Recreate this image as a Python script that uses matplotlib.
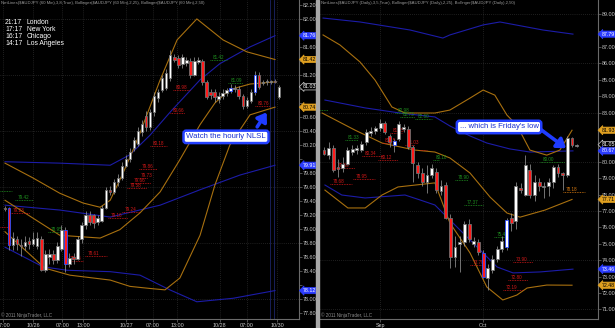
import numpy as np
import matplotlib.pyplot as plt
from matplotlib.patches import Rectangle

plt.rcParams['font.family'] = ['Liberation Sans', 'DejaVu Sans']

# ---------------- hourly AUDJPY (left panel) ----------------
h_open = [79.30, 79.30, 78.77, 78.85, 78.77, 78.75, 78.83, 78.78, 78.76, 78.85,
          78.42, 78.60, 78.64, 78.56, 78.72, 78.98, 78.50, 78.60, 78.57, 78.85,
          79.05, 79.20, 79.20, 79.10, 79.12, 79.30, 79.56, 79.53, 79.67, 79.73,
          79.90, 80.00, 80.15, 80.22, 80.38, 80.62, 80.45, 80.67, 80.87, 80.98,
          81.02, 81.16, 81.46, 81.44, 81.36, 81.37, 81.40, 81.20, 81.39, 81.40,
          81.10, 80.96, 80.96, 80.86, 80.90, 80.94, 80.97, 81.00, 81.00, 80.90,
          80.76, 80.83, 80.95, 81.20, 81.08, 81.10, 81.10, 81.11, 80.88]
h_high = [79.33, 79.32, 78.95, 78.90, 78.85, 78.90, 78.88, 78.95, 78.95, 78.90,
          78.70, 78.72, 78.70, 78.82, 79.05, 79.03, 78.66, 78.65, 78.90, 79.10,
          79.25, 79.25, 79.22, 79.20, 79.34, 79.60, 79.62, 79.72, 79.78, 79.95,
          80.05, 80.15, 80.32, 80.45, 80.55, 80.68, 80.72, 80.95, 81.00, 81.20,
          81.28, 81.55, 81.50, 81.48, 81.50, 81.46, 81.44, 81.45, 81.46, 81.43,
          81.13, 81.00, 81.00, 80.95, 81.00, 81.02, 81.07, 81.05, 81.04, 80.93,
          80.88, 81.00, 81.25, 81.24, 81.13, 81.14, 81.13, 81.14, 81.05]
h_low = [79.25, 78.70, 78.70, 78.70, 78.62, 78.70, 78.72, 78.75, 78.72, 78.40,
         78.38, 78.50, 78.50, 78.52, 78.68, 78.38, 78.46, 78.50, 78.55, 78.80,
         79.00, 79.05, 79.02, 79.05, 79.10, 79.28, 79.48, 79.50, 79.62, 79.70,
         79.88, 79.95, 80.12, 80.18, 80.33, 80.40, 80.42, 80.62, 80.82, 80.95,
         80.98, 81.12, 81.38, 81.30, 81.30, 81.33, 81.15, 81.18, 81.35, 81.05,
         80.85, 80.85, 80.82, 80.80, 80.86, 80.90, 80.94, 80.96, 80.86, 80.72,
         80.73, 80.80, 80.92, 81.00, 81.06, 81.06, 81.07, 81.08, 80.85]
h_close = [79.28, 78.77, 78.87, 78.78, 78.75, 78.82, 78.78, 78.85, 78.87, 78.42,
           78.64, 78.64, 78.56, 78.75, 78.98, 78.50, 78.58, 78.57, 78.85, 79.05,
           79.20, 79.10, 79.08, 79.16, 79.30, 79.55, 79.53, 79.67, 79.73, 79.90,
           80.00, 80.10, 80.27, 80.40, 80.50, 80.45, 80.67, 80.90, 80.95, 81.15,
           81.23, 81.48, 81.42, 81.34, 81.45, 81.41, 81.20, 81.40, 81.41, 81.10,
           80.88, 80.92, 80.88, 80.90, 80.94, 80.98, 81.02, 81.02, 80.90, 80.76,
           80.84, 80.95, 81.20, 81.03, 81.10, 81.10, 81.11, 81.10, 81.03]
h_marked = [1, 15, 56, 62]

h_tick_pos = [-0.5, 7, 14.2, 19.4, 30, 36.7, 42.7, 53.3, 60, 67.5]
h_tick_lab = ['17:00', '10/26', '07:00', '13:00', '10/27', '07:00', '13:00',
              '10/28', '07:00', '10/30']
h_session = [65.8, 66.8]

# Bollinger(50) in blue, Bollinger(25) in orange: (bar, price) points
h_blue_up = ([0, 13.6, 26.1, 31, 36, 41, 48.4, 53.3, 60.8, 67],
             [79.96, 79.94, 79.91, 80.06, 80.34, 80.67, 81.13, 81.36, 81.60, 81.76])
h_blue_mid = ([0, 13.6, 26.1, 38.5, 48.4, 58.3, 67],
              [79.34, 79.27, 79.17, 79.34, 79.56, 79.77, 79.91])
h_blue_low = ([0, 9.4, 15.4, 26.1, 33.5, 40.9, 47.6, 56.6, 67],
              [78.74, 78.46, 78.41, 78.39, 78.34, 78.13, 77.96, 78.01, 78.12])
h_or_up = ([0, 6.9, 13.6, 19.4, 23.6, 26.1, 29.3, 31.8, 33.5, 38.5, 42.7, 47.6, 54.1, 60, 67],
           [79.94, 79.73, 79.51, 79.37, 79.31, 79.41, 79.80, 80.13, 80.37, 81.13,
            81.70, 82.00, 81.70, 81.53, 81.42])
h_or_mid = ([0, 13.6, 23.6, 28.5, 33.5, 38.5, 43.4, 48.4, 52.1, 55.8, 60.8, 67],
            [79.41, 78.91, 78.87, 78.99, 79.23, 79.53, 79.99, 80.49, 80.80, 80.99, 81.07, 81.10])
h_or_low = ([0, 9.9, 16.1, 26.1, 31, 36, 39.7, 43.4, 48.4, 52.1, 55.8, 60.8, 67],
            [78.96, 78.44, 78.34, 78.27, 78.18, 78.15, 78.13, 78.30, 78.91, 79.63, 80.20, 80.63, 80.74])

# NetLines: (from bar, to bar, price, colour, labelled)
h_netlines = [(-1.2, 1.7, 79.54, 'g', False), (2.5, 7.0, 79.42, 'g', True),
              (1.2, 6.2, 79.23, 'r', True), (-1.2, 0.8, 79.03, 'r', False),
              (10.7, 14.1, 78.95, 'g', True), (15.4, 19.4, 78.54, 'r', True),
              (19.9, 25.3, 78.61, 'r', True), (25.6, 30.5, 79.16, 'r', True),
              (29.0, 33.5, 79.24, 'r', True), (30.3, 35.2, 79.58, 'r', True),
              (31.3, 36.2, 79.66, 'r', True), (33.0, 35.5, 79.73, 'r', True),
              (33.3, 37.7, 79.86, 'r', True), (36.0, 40.2, 80.18, 'r', True),
              (41.0, 44.7, 80.66, 'r', True), (41.7, 46.0, 80.98, 'r', True),
              (50.9, 55.1, 81.42, 'g', True), (55.3, 59.1, 81.09, 'g', True),
              (62.0, 65.8, 80.76, 'r', True)]
h_tags = [(81.76, 'b'), (81.42, 'o'), (81.03, 'w'), (80.74, 'o'), (79.91, 'b'), (78.12, 'b')]
h_grid = [82.0, 81.2, 80.4, 79.6, 78.8, 78.0]

# ---------------- daily AUDJPY (right panel) ----------------
d_open = [80.73, 80.40, 80.85, 79.70, 79.60, 79.90, 80.60, 80.75, 80.75, 81.20,
          81.75, 81.90, 82.05, 82.40, 81.55, 81.00, 81.40, 82.00, 82.00, 80.90,
          79.80, 79.30, 78.80, 79.20, 79.40, 78.20, 78.60, 76.60, 74.20, 75.00,
          75.10, 76.20, 75.00, 75.10, 74.45, 72.90, 73.40, 74.10, 74.70, 74.80,
          76.60, 76.40, 78.40, 78.00, 79.50, 78.00, 78.80, 78.45, 78.50, 78.80,
          79.70, 79.35, 79.20, 81.45, 80.95]
d_high = [80.90, 81.20, 81.00, 80.20, 80.30, 80.90, 81.00, 81.00, 81.30, 82.00,
          82.10, 82.20, 82.60, 82.50, 81.70, 81.40, 82.50, 82.30, 82.20, 81.00,
          80.00, 79.60, 79.80, 79.90, 79.60, 78.90, 78.80, 76.80, 75.50, 75.50,
          76.40, 76.50, 75.40, 75.30, 74.60, 73.80, 74.30, 74.90, 75.50, 76.60,
          76.90, 78.80, 78.70, 80.40, 79.90, 79.20, 79.00, 78.80, 79.00, 79.80,
          79.90, 79.40, 81.60, 81.50, 81.10]
d_low = [80.40, 80.20, 79.40, 79.10, 79.40, 79.80, 80.40, 80.50, 80.60, 81.00,
         81.60, 81.70, 81.90, 81.70, 80.90, 80.60, 81.30, 81.80, 80.80, 78.80,
         79.00, 78.50, 78.10, 79.00, 78.10, 78.00, 76.50, 73.50, 73.60, 73.30,
         74.90, 75.10, 74.80, 74.30, 72.90, 72.17, 73.20, 73.90, 74.50, 74.60,
         75.80, 75.90, 78.10, 77.90, 77.80, 77.60, 78.20, 77.80, 77.90, 78.40,
         79.10, 78.30, 79.10, 80.90, 80.90]
d_close = [80.50, 80.85, 79.50, 79.55, 79.90, 80.70, 80.80, 80.85, 81.10, 81.80,
           81.90, 82.05, 82.40, 81.80, 81.20, 81.30, 82.30, 82.10, 80.90, 79.95,
           79.30, 78.80, 79.20, 79.60, 78.30, 78.50, 76.60, 74.20, 74.80, 75.10,
           76.20, 75.30, 75.15, 74.50, 73.00, 73.50, 74.10, 74.70, 75.20, 76.45,
           76.30, 78.50, 78.30, 79.80, 78.00, 78.80, 78.50, 78.55, 78.80, 79.70,
           79.35, 79.20, 81.45, 81.00, 81.05]
d_marked = [15, 34, 39]

d_tick_pos = [12, 34]
d_tick_lab = ['Sep', 'Oct']

d_blue_up = ([-0.2, 7.7, 18.4, 25.4, 26.9, 34, 37.6, 46.8, 53.2],
             [88.77, 88.53, 88.04, 87.55, 87.74, 88.35, 88.53, 88.04, 87.79])
d_blue_mid = ([0.2, 8.8, 16.2, 23.7, 26.9, 31.2, 34.8, 39.7, 44, 53.2],
              [83.77, 83.29, 82.98, 82.74, 82.19, 81.58, 81.15, 80.79, 80.60, 80.67])
d_blue_low = ([0.2, 3.8, 8.8, 17.3, 20.5, 23.7, 26.9, 31.2, 37, 40.4, 46.2, 53.2],
              [78.59, 77.98, 77.80, 77.98, 77.68, 77.37, 76.46, 75.24, 73.59, 73.23, 73.29, 73.46])
d_or_up = ([-0.2, 3.4, 7.7, 10.9, 14.5, 17.3, 23.7, 26.9, 31.2, 34, 36.5, 39.1, 41.2, 44, 47.6, 50.4, 53],
           [87.74, 87.13, 86.09, 84.99, 83.35, 82.98, 82.98, 83.16, 83.89, 84.38,
            84.07, 82.85, 82.24, 80.72, 80.41, 80.72, 81.93])
d_or_mid = ([-0.4, 6.6, 12.4, 19.4, 23.7, 26.9, 31.2, 35.5, 39.1, 41.9, 47.2, 53],
            [82.98, 81.94, 81.15, 80.72, 80.60, 80.24, 79.32, 77.85, 76.88, 76.63, 77.06, 77.71])
d_or_low = ([0.2, 5.1, 8.8, 12.4, 15.8, 23.7, 26.9, 31.2, 34.8, 38.2, 41.2, 43.4, 47.6, 53],
            [78.28, 77.19, 77.19, 77.98, 78.47, 78.72, 76.28, 74.45, 72.37, 71.58, 71.88, 72.31, 72.49, 72.48])

d_netlines = [(-1.9, 0.9, 83.16, 'g', False), (15.2, 17.9, 82.98, 'g', True),
              (16.2, 19.4, 82.73, 'g', True), (19.4, 23.1, 82.60, 'g', True),
              (4.5, 7.3, 81.33, 'g', True), (14.1, 16.7, 81.75, 'r', True),
              (12.4, 14.5, 81.15, 'r', True), (17.3, 19.4, 81.03, 'r', True),
              (8.2, 12.5, 80.34, 'r', True), (11.6, 15.9, 80.12, 'r', True),
              (2.4, 6.6, 79.60, 'r', True), (1.3, 6.0, 78.68, 'r', True),
              (6.2, 10.9, 78.95, 'r', True), (20.5, 22.0, 80.70, 'r', False),
              (23.3, 24.6, 80.10, 'g', True), (28.0, 30.8, 78.90, 'g', True),
              (29.9, 34.0, 77.37, 'g', True), (46.2, 51.5, 80.00, 'g', True),
              (36.3, 39.3, 75.40, 'g', True), (31.2, 34.0, 73.70, 'r', True),
              (40.4, 44.7, 73.90, 'r', True), (39.3, 43.6, 72.80, 'r', True),
              (38.2, 42.5, 72.19, 'r', True), (51.1, 55.8, 78.18, 'o', True)]
d_tags = [(87.79, 'b'), (81.93, 'o'), (81.05, 'w'), (80.67, 'b'), (77.71, 'o'), (73.46, 'b'), (72.48, 'o')]
d_grid = [89, 86, 83, 80, 77, 74, 71]

BLUE = '#1c1ca8'
ORANGE = '#a8700f'
NET = {'r': '#d01818', 'g': '#1f8f1f', 'o': '#d87a10'}
TAG = {'b': ('#2b3cff', '#2b3cff', 'white'), 'o': ('#e0a020', '#e0a020', 'black'),
       'w': ('black', '#d0d0d0', 'white')}


def draw_panel(ax, o, h, l, c, marked, bands, netlines, tags, grid, minbody, title):
    ax.set_facecolor('black')
    o, h, l, c = map(np.asarray, (o, h, l, c))
    x = np.arange(len(o))
    for g in grid:
        ax.axhline(g, color='#3c3c3c', lw=0.5, ls=(0, (1, 2)), zorder=1)
    for bx, by in bands[:3]:
        ax.plot(bx, by, color=BLUE, lw=0.8, zorder=2)
    for bx, by in bands[3:]:
        ax.plot(bx, by, color=ORANGE, lw=0.8, zorder=2)
    for x0, x1, p, col, lab in netlines:
        ax.hlines(p, x0, x1, color=NET[col], lw=0.6, ls=(0, (1, 1)), zorder=2)
        if lab:
            ax.text(x0 + 0.6, p, '%.2f' % p, color=NET[col], fontsize=3.3,
                    va='bottom', zorder=2)
    ax.vlines(x, l, h, color='#a0a0a0', lw=0.5, zorder=3)
    body = np.maximum(np.abs(c - o), minbody)
    face = np.where(c >= o, 'white', '#ff1c1c')
    edge = ['#3050ff' if i in marked else '#707070' for i in x]
    ax.bar(x, body, bottom=np.minimum(o, c), width=0.62, color=face,
           edgecolor=edge, linewidth=0.6, zorder=4)
    ytr = ax.get_yaxis_transform()
    for p, k in tags:
        fc, ec, tc = TAG[k]
        ax.text(1.012, p, '%.2f' % p, transform=ytr, fontsize=3.8, color=tc,
                va='center', ha='left', zorder=10, clip_on=False,
                bbox=dict(boxstyle='larrow,pad=0.12', fc=fc, ec=ec, lw=0.5))
    ax.text(0.005, 0.997, title, transform=ax.transAxes, fontsize=3.05,
            color='#9a9a9a', va='top', ha='left')
    ax.text(0.005, 0.004, '\u00a9 2011 NinjaTrader, LLC', transform=ax.transAxes,
            fontsize=3.3, color='#8c8c8c', va='bottom', ha='left')
    ax.yaxis.tick_right()
    ax.tick_params(axis='both', colors='#707070', labelcolor='#c8c8c8',
                   labelsize=3.9, length=2, width=0.5, pad=1)
    ax.grid(axis='x', color='#3c3c3c', lw=0.5, ls=(0, (1, 2)))
    for s in ('top', 'left'):
        ax.spines[s].set_visible(False)
    for s in ('right', 'bottom'):
        ax.spines[s].set_color('#6a6a6a')
        ax.spines[s].set_linewidth(0.8)


def price_ticks(ax, ticks, tags, gap):
    # labels hidden behind a price tag are not drawn
    tag_vals = [p for p, _ in tags]
    labels = ['' if min(abs(t - p) for p in tag_vals) < gap else '%.2f' % t for t in ticks]
    ax.set_yticks(ticks, labels)


fig = plt.figure(figsize=(6.15, 3.28), dpi=100, facecolor='black')

# left: 60 Min chart
axl = fig.add_axes([0, 9 / 328, 299 / 615, 319 / 328])
draw_panel(axl, h_open, h_high, h_low, h_close, h_marked,
           [h_blue_up, h_blue_mid, h_blue_low, h_or_up, h_or_mid, h_or_low],
           h_netlines, h_tags, h_grid, 0.015,
           'NetLines($AUDJPY (60 Min),3,8,True), Bollinger($AUDJPY (60 Min),2,25), '
           'Bollinger($AUDJPY (60 Min),2,50)')
axl.set_xlim(-1.24, 72.95)
axl.set_ylim(77.714, 82.27)
price_ticks(axl, np.round(np.arange(77.8, 82.21, 0.2), 1), h_tags, 0.1)
axl.set_xticks(h_tick_pos, h_tick_lab)
for s in h_session:
    axl.axvline(s, color='#1c2466', lw=0.6, zorder=1)

clock = [('21:17', 'London'), ('17:17', 'New York'), ('16:17', 'Chicago'),
         ('14:17', 'Los Angeles')]
for k, (t, city) in enumerate(clock):
    yy = 1 - (23 + 6.7 * k) / 319
    axl.text(0.017, yy, t, transform=axl.transAxes, color='white', fontsize=4.9, va='center')
    axl.text(0.09, yy, city, transform=axl.transAxes, color='white', fontsize=4.9, va='center')

box = dict(boxstyle='round,pad=0.35', fc='white', ec='#2440ff', lw=1.8)
arrow = dict(arrowstyle='-|>,head_length=0.5,head_width=0.35', color='#1f3cff', lw=2.6)
axl.annotate('', xy=(0.897, 0.655), xytext=(0.855, 0.595), xycoords='axes fraction',
             arrowprops=arrow, zorder=11)
axl.text(0.756, 0.571, 'Watch the hourly NLSL', transform=axl.transAxes, fontsize=5.6,
         color='#1a30d0', ha='center', va='center', bbox=box, zorder=12)

# right: Daily chart
axr = fig.add_axes([320 / 615, 9 / 328, 278 / 615, 319 / 328])
draw_panel(axr, d_open, d_high, d_low, d_close, d_marked,
           [d_blue_up, d_blue_mid, d_blue_low, d_or_up, d_or_mid, d_or_low],
           d_netlines, d_tags, d_grid, 0.08,
           'NetLines($AUDJPY (Daily),3,5,True), Bollinger($AUDJPY (Daily),2,25), '
           'Bollinger($AUDJPY (Daily),2,50)')
axr.set_xlim(-0.855, 58.55)
axr.set_ylim(70.42, 89.87)
price_ticks(axr, np.arange(71, 89.5, 1.0), d_tags, 0.25)
axr.set_xticks(d_tick_pos, d_tick_lab)

axr.annotate('', xy=(0.893, 0.53), xytext=(0.785, 0.6), xycoords='axes fraction',
             arrowprops=arrow, zorder=11)
axr.text(0.644, 0.602, '... which is Friday\'s low', transform=axr.transAxes, fontsize=5.6,
         color='#1a30d0', ha='center', va='center', bbox=box, zorder=12)

# splitter between the two charts
fig.add_artist(Rectangle((316 / 615, 0), 3 / 615, 1, transform=fig.transFigure,
                         color='#a8a8a8', zorder=20))

fig.savefig('out.png', dpi=100, facecolor='black')
